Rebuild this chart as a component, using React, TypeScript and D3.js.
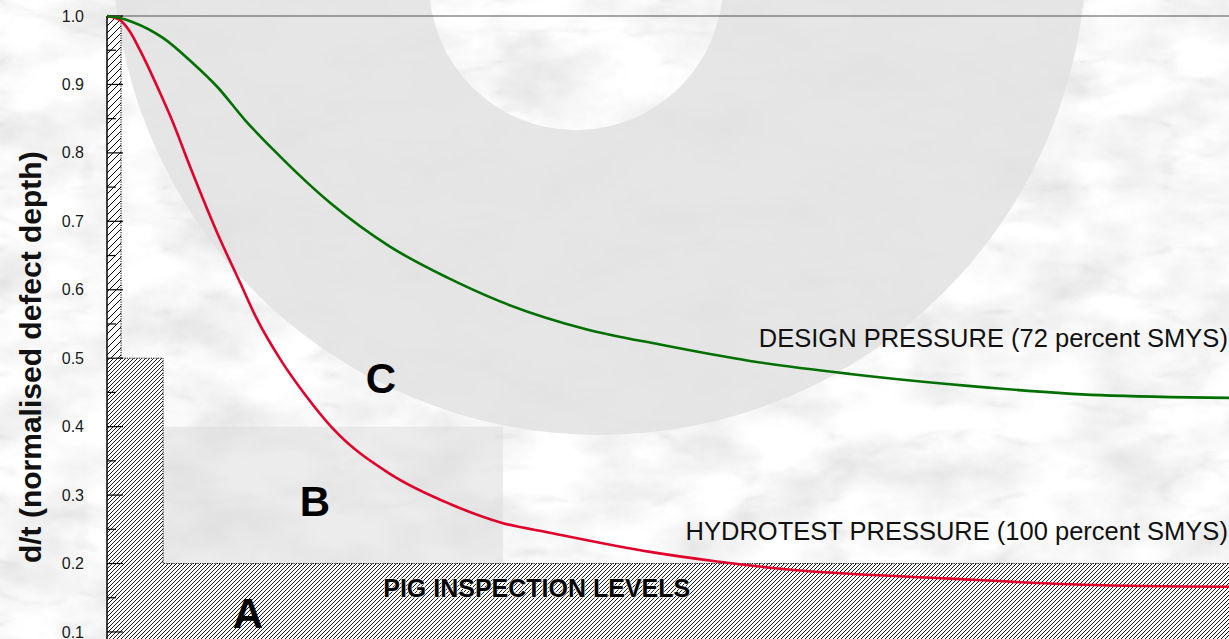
import React from 'react';
import * as d3 from 'd3';

const W = 1229;
const H = 639;

// normalised defect length (x) vs normalised defect depth d/t (y)
const designX = [0, 0.116, 0.232, 0.499, 0.766, 0.98, 1.23, 1.48, 1.988, 2.522, 3.03, 3.503, 4.278, 4.929, 5.731, 6.622, 7.513, 8.85, 10];
const designY = [1.0, 0.997, 0.991, 0.968, 0.931, 0.897, 0.848, 0.805, 0.727, 0.663, 0.618, 0.583, 0.542, 0.52, 0.496, 0.477, 0.462, 0.446, 0.442];

const hydroX = [0, 0.116, 0.205, 0.294, 0.472, 0.579, 0.74, 0.98, 1.185, 1.337, 1.542, 1.783, 2.014, 2.522, 3.057, 3.529, 3.948, 4.84, 5.437, 6.025, 7.513, 8.699, 10];
const hydroY = [1.0, 0.994, 0.977, 0.95, 0.888, 0.848, 0.78, 0.684, 0.611, 0.557, 0.499, 0.443, 0.397, 0.331, 0.287, 0.259, 0.245, 0.217, 0.203, 0.192, 0.178, 0.169, 0.166];

// pig inspection level steps (right edge, top depth)
const stepRight = [0.125, 0.5, 10];
const stepTop = [1.0, 0.5, 0.2];

// region B box
const regionBX = [0.5, 3.53];
const regionBY = [0.2, 0.4];

const majorTicks = [0.1, 0.2, 0.3, 0.4, 0.5, 0.6, 0.7, 0.8, 0.9, 1.0];
const minorTicks = [0.05, 0.15, 0.25, 0.35, 0.45, 0.55, 0.65, 0.75, 0.85, 0.95];

const designLabel = 'DESIGN PRESSURE (72 percent SMYS)';
const hydroLabel = 'HYDROTEST PRESSURE (100 percent SMYS)';
const pigLabel = 'PIG INSPECTION LEVELS';
const yTitle = 'd/t (normalised defect depth)';

const x = d3.scaleLinear().domain([0, 10]).range([107, 1229]);
const y = d3.scaleLinear().domain([0, 1]).range([700.4, 16]);

const FONT = 'Arial, "Liberation Sans", Helvetica, sans-serif';

export default function App() {
  const mkLine = d3
    .line<[number, number]>()
    .x((d) => x(d[0]))
    .y((d) => y(d[1]))
    .curve(d3.curveMonotoneX);
  const designPath = mkLine(designX.map((v, i) => [v, designY[i]] as [number, number]));
  const hydroPath = mkLine(hydroX.map((v, i) => [v, hydroY[i]] as [number, number]));

  const bottom = y(0);
  const x0 = x(0);
  const stepPts: [number, number][] = [];
  stepPts.push([x0, y(stepTop[0])]);
  stepRight.forEach((r, i) => {
    stepPts.push([x(r), y(stepTop[i])]);
    if (i < stepRight.length - 1) stepPts.push([x(r), y(stepTop[i + 1])]);
  });
  const upperColumn = `M${x0},${y(stepTop[0])}H${x(stepRight[0])}V${y(stepTop[1])}H${x0}Z`;
  const lowerArea = `M${x0},${y(stepTop[1])}H${x(stepRight[1])}V${y(stepTop[2])}H${x(stepRight[2])}V${bottom}H${x0}Z`;
  const outline = 'M' + stepPts.slice(1).map((p) => p.join(',')).join('L');

  // watermark ring
  const ocx = x(4.39), ocy = y(1.0994), orr = x(4.34) - x(0);
  const icx = x(4.18), icy = y(1.048), ir = x(1.31) - x(0);
  const circ = (cx: number, cy: number, r: number) =>
    `M${cx - r},${cy}a${r},${r} 0 1,0 ${2 * r},0a${r},${r} 0 1,0 ${-2 * r},0Z`;
  const ringPath = circ(ocx, ocy, orr) + circ(icx, icy, ir);

  return (
    <svg
      width={W}
      height={H}
      style={{ position: 'absolute', left: 0, top: 0, display: 'block' }}
      fontFamily={FONT}
    >
      <defs>
        <filter id="marble" x="0" y="0" width="100%" height="100%">
          <feTurbulence type="fractalNoise" baseFrequency="0.012 0.02" numOctaves={5} seed={11} result="n" />
          <feColorMatrix
            in="n"
            type="matrix"
            values="0.4 0 0 0 0.74  0.4 0 0 0 0.74  0.4 0 0 0 0.74  0 0 0 0 1"
          />
        </filter>
        <filter id="veins" x="0" y="0" width="100%" height="100%">
          <feTurbulence type="turbulence" baseFrequency="0.006 0.016" numOctaves={4} seed={3} result="t" />
          <feColorMatrix
            in="t"
            type="matrix"
            values="0 0 0 0 0.5  0 0 0 0 0.5  0 0 0 0 0.5  -2.2 0 0 0 0.4"
          />
        </filter>
        <pattern id="hatchWide" patternUnits="userSpaceOnUse" width={7} height={7}>
          <rect width={7} height={7} fill="#fff" />
          <path d="M-1,1 l2,-2 M0,7 l7,-7 M6,8 l2,-2" stroke="#000" strokeWidth={1} />
        </pattern>
        <pattern id="hatch" patternUnits="userSpaceOnUse" width={4} height={4}>
          <rect width={4} height={4} fill="#fff" />
          <path d="M-1,1 l2,-2 M0,4 l4,-4 M3,5 l2,-2" stroke="#000" strokeWidth={0.9} />
        </pattern>
      </defs>

      {/* marble background */}
      <rect width={W} height={H} fill="#efefef" />
      <rect width={W} height={H} filter="url(#marble)" />
      <rect width={W} height={H} filter="url(#veins)" opacity={0.45} />

      {/* watermark ring (region C) */}
      <path d={ringPath} fill="#e2e2e2" fillOpacity={0.85} fillRule="evenodd" />

      {/* region B */}
      <rect
        x={x(regionBX[0])}
        y={y(regionBY[1])}
        width={x(regionBX[1]) - x(regionBX[0])}
        height={y(regionBY[0]) - y(regionBY[1])}
        fill="#dcdcdc"
        fillOpacity={0.55}
      />

      {/* top frame line */}
      <line x1={x(0)} x2={W} y1={y(1)} y2={y(1)} stroke="#555" strokeWidth={1.2} />

      {/* hatched pig inspection area */}
      <path d={upperColumn} fill="url(#hatchWide)" />
      <path d={lowerArea} fill="url(#hatch)" />
      <path d={outline} fill="none" stroke="#000" strokeWidth={1} strokeDasharray="1.2,1.2" />

      {/* axis */}
      <line x1={x0} x2={x0} y1={y(1)} y2={H} stroke="#000" strokeWidth={1.5} />
      {majorTicks.map((t) => (
        <g key={'M' + t}>
          <line x1={x0} x2={x0 + 16} y1={y(t)} y2={y(t)} stroke="#000" strokeWidth={1.2} />
          <text x={84} y={y(t)} dy="0.35em" textAnchor="end" fontSize={16} fill="#1a1a1a">
            {d3.format('.1f')(t)}
          </text>
        </g>
      ))}
      {minorTicks.map((t) => (
        <line key={'m' + t} x1={x0} x2={x0 + 9} y1={y(t)} y2={y(t)} stroke="#000" strokeWidth={1.2} />
      ))}

      {/* y title */}
      <text
        transform={`translate(41,${y(0.5) - 1}) rotate(-90)`}
        textAnchor="middle"
        fontSize={30}
        fontWeight="bold"
        fill="#111"
      >
        {yTitle}
      </text>

      {/* curves */}
      <path d={hydroPath || ''} fill="none" stroke="#e0002b" strokeWidth={2.6} />
      <path d={designPath || ''} fill="none" stroke="#006f00" strokeWidth={2.6} />

      {/* labels */}
      <text x={x(9.99)} y={y(0.516)} textAnchor="end" fontSize={25.5} fill="#111">
        {designLabel}
      </text>
      <text x={x(9.99)} y={y(0.234)} textAnchor="end" fontSize={25.5} fill="#111">
        {hydroLabel}
      </text>
      <text
        x={x(3.83)}
        y={y(0.151)}
        textAnchor="middle"
        fontSize={25}
        fontWeight="bold"
        fill="#000"
        stroke="#fff"
        strokeWidth={1.2}
        paintOrder="stroke"
      >
        {pigLabel}
      </text>
      <text x={x(1.257)} y={y(0.106)} textAnchor="middle" fontSize={42} fontWeight="bold" fill="#000">
        A
      </text>
      <text x={x(1.854)} y={y(0.269)} textAnchor="middle" fontSize={42} fontWeight="bold" fill="#000">
        B
      </text>
      <text x={x(2.442)} y={y(0.449)} textAnchor="middle" fontSize={42} fontWeight="bold" fill="#000">
        C
      </text>
    </svg>
  );
}
